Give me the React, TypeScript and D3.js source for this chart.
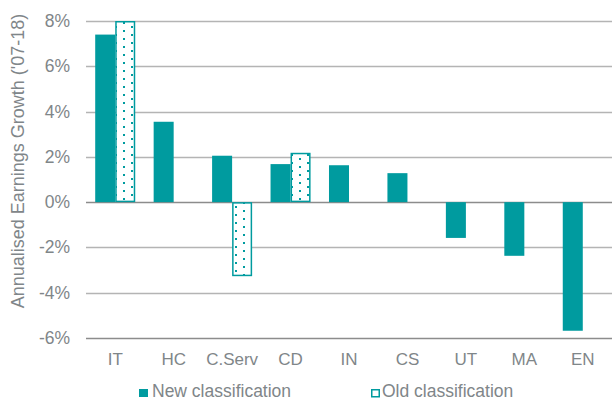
import React, { useEffect, useRef } from 'react';
import * as d3 from 'd3';

const categories = ['IT', 'HC', 'C.Serv', 'CD', 'IN', 'CS', 'UT', 'MA', 'EN'];
const newValues = [7.4, 3.55, 2.05, 1.68, 1.63, 1.28, -1.58, -2.37, -5.68];
const oldValues: (number | null)[] = [8.0, null, -3.27, 2.18, null, null, null, null, null];
const yTicks = [-6, -4, -2, 0, 2, 4, 6, 8];
const legendLabels = ['New classification', 'Old classification'];

const TEAL = '#009b9f';
const TEXT = '#7f8689';
const FONT = 'Arial, "Liberation Sans", sans-serif';

const App = () => {
  const ref = useRef<SVGSVGElement>(null);

  useEffect(() => {
    const width = 612;
    const height = 401;
    const svg = d3.select(ref.current).attr('width', width).attr('height', height);
    svg.selectAll('*').remove();

    const x = d3.scaleBand().domain(categories).range([86, 612]).paddingInner(0).paddingOuter(0);
    const xSub = d3.scaleBand().domain(['new', 'old']).range([0, x.bandwidth()]).paddingInner(0).paddingOuter(0.46);
    const y = d3.scaleLinear().domain([-6, 8]).range([338, 21]);

    // dotted pattern for old classification
    const defs = svg.append('defs');
    const pat = defs.append('pattern')
      .attr('id', 'dots')
      .attr('patternUnits', 'userSpaceOnUse')
      .attr('width', 16)
      .attr('height', 8);
    pat.append('rect').attr('width', 16).attr('height', 8).attr('fill', 'white');
    pat.append('rect').attr('x', 3).attr('y', 2).attr('width', 2).attr('height', 2).attr('fill', TEAL);
    pat.append('rect').attr('x', 11).attr('y', 6).attr('width', 2).attr('height', 2).attr('fill', TEAL);

    // gridlines
    svg.append('g')
      .selectAll('line')
      .data(yTicks)
      .enter()
      .append('line')
      .attr('x1', 86)
      .attr('x2', width)
      .attr('y1', d => Math.round(y(d)) + 0.5)
      .attr('y2', d => Math.round(y(d)) + 0.5)
      .attr('stroke', d => (d === 0 || d === -6 ? '#8c8c8c' : '#b4b4b4'))
      .attr('stroke-width', 1.5);

    // y tick labels
    svg.append('g')
      .selectAll('text')
      .data(yTicks)
      .enter()
      .append('text')
      .attr('x', 70)
      .attr('y', d => y(d) + 6)
      .attr('text-anchor', 'end')
      .style('font-family', FONT)
      .style('font-size', '17.5px')
      .style('fill', TEXT)
      .text(d => `${d}%`);

    // y axis title
    svg.append('text')
      .attr('transform', `translate(24, 161) rotate(-90)`)
      .attr('text-anchor', 'middle')
      .style('font-family', FONT)
      .style('font-size', '18px')
      .style('fill', TEXT)
      .text("Annualised Earnings Growth ('07-18)");

    // new bars
    svg.append('g')
      .selectAll('rect')
      .data(categories)
      .enter()
      .append('rect')
      .attr('x', (d) => (x(d) as number) + (xSub('new') as number))
      .attr('width', xSub.bandwidth())
      .attr('y', (_, i) => y(Math.max(0, newValues[i])))
      .attr('height', (_, i) => Math.abs(y(newValues[i]) - y(0)))
      .attr('fill', TEAL);

    // old bars
    const oldData = categories
      .map((c, i) => ({ c, v: oldValues[i] }))
      .filter(d => d.v !== null) as { c: string; v: number }[];
    svg.append('g')
      .selectAll('rect')
      .data(oldData)
      .enter()
      .append('rect')
      .attr('x', d => (x(d.c) as number) + (xSub('old') as number) + 0.75)
      .attr('width', xSub.bandwidth() - 1.5)
      .attr('y', d => y(Math.max(0, d.v)) + 0.75)
      .attr('height', d => Math.abs(y(d.v) - y(0)) - 1.5)
      .attr('fill', 'url(#dots)')
      .attr('stroke', TEAL)
      .attr('stroke-width', 1.5);

    // category labels
    svg.append('g')
      .selectAll('text')
      .data(categories)
      .enter()
      .append('text')
      .attr('x', d => (x(d) as number) + x.bandwidth() / 2)
      .attr('y', 365)
      .attr('text-anchor', 'middle')
      .style('font-family', FONT)
      .style('font-size', '17px')
      .style('fill', TEXT)
      .text(d => d);

    // legend
    const legend = svg.append('g');
    const lx = [139, 371];
    legend.selectAll('g')
      .data(legendLabels)
      .enter()
      .append('g')
      .attr('transform', (_, i) => `translate(${lx[i]}, 389)`)
      .each(function (d, i) {
        const item = d3.select(this);
        if (i === 0) {
          item.append('rect').attr('width', 9).attr('height', 8).attr('fill', TEAL);
        } else {
          item.append('rect')
            .attr('x', 0.75).attr('y', 0.75)
            .attr('width', 7.5).attr('height', 7)
            .attr('fill', 'white')
            .attr('stroke', TEAL)
            .attr('stroke-width', 1.5);
        }
        item.append('text')
          .attr('x', i === 0 ? 13 : 11)
          .attr('y', 8)
          .style('font-family', FONT)
          .style('font-size', '17.5px')
          .style('fill', TEXT)
          .text(d);
      });
  }, []);

  return <svg ref={ref} style={{ position: 'absolute', left: 0, top: 0, display: 'block' }} />;
};

export default App;
